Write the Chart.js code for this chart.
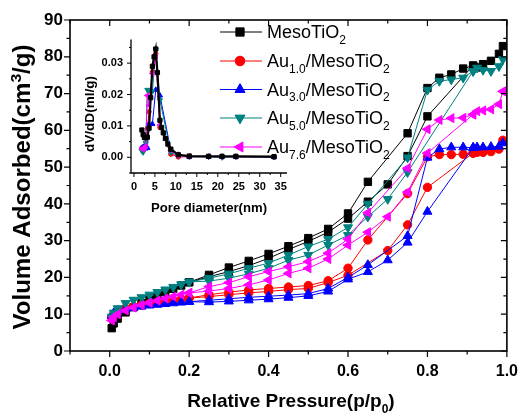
<!DOCTYPE html>
<html>
<head>
<meta charset="utf-8">
<script src="https://cdn.jsdelivr.net/npm/chart.js@4.4.0/dist/chart.umd.min.js"></script>
<style>
  html, body { margin: 0; padding: 0; background: #fff; }
  #wrap { position: relative; width: 529px; height: 413px; }
  #main { position: absolute; left: 0; top: 0; }
  #inset { position: absolute; left: 80px; top: 25px; }
</style>
</head>
<body>
<div id="wrap">
  <canvas id="main" width="529" height="413"></canvas>
  <canvas id="inset" width="215" height="195"></canvas>
</div>
<script>
// relative pressure grids (p/p0)
const pLow = [0.005, 0.01, 0.02, 0.04, 0.06, 0.08, 0.10, 0.12, 0.14, 0.16, 0.18, 0.20];
const pUp = [0.25, 0.30, 0.35, 0.40, 0.45, 0.50, 0.55, 0.60, 0.65, 0.70, 0.75, 0.80, 0.83, 0.86, 0.89, 0.915, 0.925, 0.94, 0.96, 0.98, 0.99];
const pDown = [0.20, 0.25, 0.30, 0.35, 0.40, 0.45, 0.50, 0.55, 0.60, 0.65, 0.70, 0.75, 0.80, 0.915];

// volume adsorbed (cm3/g)
const mesoLow = [6.2, 7.5, 8.8, 10.5, 11.9, 13.0, 14.0, 15.0, 16.0, 16.9, 17.8, 18.7];
const mesoUp = [20.7, 22.7, 24.5, 26.4, 28.5, 30.7, 33.2, 37.4, 46.0, null, 59.2, 71.5, 74.3, 75.2, 76.8, 77.6, 77.1, 78.0, 78.9, 80.8, 82.9];
const mesoDown = [18.7, 20.2, 21.6, 23.2, 25.2, 27.6, 29.8, 32.3, 36.0, 40.6, 45.3, 53.0, 63.8, 77.6];

const au10Low = [9.2, 10.0, 10.8, 11.6, 12.1, 12.5, 12.9, 13.2, 13.5, 13.8, 14.1, 14.4];
const au10Up = [15.3, 16.0, 16.6, 17.0, 17.4, 17.8, 19.1, 22.5, 30.2, null, 42.8, 52.8, 53.4, 53.4, 53.5, 53.8, 54.0, 54.0, 54.2, 54.9, 57.3];
const au10Down = [14.4, 14.8, 15.3, 15.8, 16.2, 16.7, 17.0, 18.6, 20.6, null, 27.3, 34.3, 44.5, 53.8];

const au30Low = [9.6, 10.3, 10.9, 11.4, 11.8, 12.1, 12.4, 12.6, 12.8, 13.0, 13.2, 13.4];
const au30Up = [13.8, 14.2, 14.6, 14.9, 15.2, 15.6, 17.0, 20.0, 23.4, null, 31.3, 52.6, 54.9, 55.4, 55.4, 55.3, 55.4, 55.4, 55.5, 55.6, 56.5];
const au30Down = [13.4, 13.3, 13.5, 13.8, 14.1, 14.5, 15.0, 16.2, 19.5, 21.5, 24.7, 29.5, 37.9, 55.3];

const au50Low = [9.3, 10.4, 11.6, 13.0, 13.9, 14.6, 15.3, 16.0, 16.7, 17.4, 18.1, 18.8];
const au50Up = [19.8, 21.0, 22.5, 23.9, 26.1, 28.4, 30.4, 33.6, 40.0, null, 52.6, 71.0, 73.4, 73.8, 74.3, 76.1, 77.0, 76.4, 76.1, 77.4, 79.3];
const au50Down = [18.8, 19.0, 19.8, 21.0, 22.5, 24.7, 26.1, 28.8, 31.5, 36.5, 41.3, 48.6, null, 76.1];

const au76Low = [8.3, 9.2, 10.0, 11.0, 11.8, 12.5, 13.1, 13.7, 14.3, 14.8, 15.3, 15.8];
const au76Up = [17.5, 18.6, 20.2, 21.6, 22.9, 24.3, 26.6, 30.4, 37.6, null, 49.7, 60.3, 62.8, 63.3, 63.4, 64.3, 65.2, 65.4, 65.7, 67.1, 70.6];
const au76Down = [15.8, 16.3, 17.0, 18.0, 19.3, 21.1, 22.5, 25.0, 28.8, 32.3, 36.5, 43.2, 53.8, 64.3];

// inset: pore size distribution
const poreD = [1.9, 2.2, 2.5, 2.8, 3.2, 3.6, 4.0, 4.4, 4.8, 5.2, 5.6, 6.2, 6.6, 7.0, 7.5, 8.1, 8.8, 10.6, 13.2, 17.8, 21.0, 24.3, 33.4];
const mesoPsd = [0.0087, 0.0072, 0.0063, 0.0062, 0.0064, 0.0093, 0.0190, 0.0290, 0.0320, 0.0345, 0.0270, 0.0118, 0.0095, 0.0078, 0.0060, 0.0042, 0.0026, 0.0008, 0.0004, 0.0003, 0.0003, 0.0003, 0.0002];
const au10Psd = [0.0030, 0.0028, 0.0035, null, 0.0092, 0.0145, null, 0.0272, null, 0.0330, null, 0.0095, null, null, null, null, 0.0010, 0.0001, 0.0002, 0.0002, 0.0002, 0.0002, 0.0001];
const au30Psd = [0.0030, 0.0032, 0.0030, 0.0028, 0.0030, 0.0106, null, 0.0106, null, 0.0215, null, 0.0197, null, null, null, null, 0.0022, 0.0008, 0.0002, 0.0002, 0.0002, 0.0002, 0.0001];
const au50Psd = [0.0020, 0.0016, 0.0025, 0.0045, 0.0215, 0.0212, null, 0.0210, null, 0.0343, null, 0.0182, null, null, null, null, 0.0015, 0.0005, 0.0002, 0.0002, 0.0000, 0.0002, 0.0001];
const au76Psd = [0.0028, 0.0025, 0.0030, 0.0035, 0.0197, 0.0165, null, 0.0267, null, 0.0323, null, 0.0103, null, null, null, null, 0.0023, 0.0005, 0.0003, 0.0003, 0.0002, 0.0002, 0.0002];

// tick labels
const xTicks = [0.0, 0.2, 0.4, 0.6, 0.8, 1.0];
const yTicks = [0, 10, 20, 30, 40, 50, 60, 70, 80, 90];
const insetXTicks = [0, 5, 10, 15, 20, 25, 30, 35];
const insetYTicks = [0.00, 0.01, 0.02, 0.03];

// legend text, [text, 'n' | 'sub' | 'sup']
const legendLabels = [
  [['MesoTiO', 'n'], ['2', 'sub']],
  [['Au', 'n'], ['1.0', 'sub'], ['/MesoTiO', 'n'], ['2', 'sub']],
  [['Au', 'n'], ['3.0', 'sub'], ['/MesoTiO', 'n'], ['2', 'sub']],
  [['Au', 'n'], ['5.0', 'sub'], ['/MesoTiO', 'n'], ['2', 'sub']],
  [['Au', 'n'], ['7.6', 'sub'], ['/MesoTiO', 'n'], ['2', 'sub']]
];

const FONT = '"Liberation Sans", Arial, Helvetica, sans-serif';

const series = [
  {color: '#000000', style: 'rect', rot: 0, r: 5.2, low: mesoLow, up: mesoUp, down: mesoDown, psd: mesoPsd},
  {color: '#ff0000', style: 'circle', rot: 0, r: 4.2, low: au10Low, up: au10Up, down: au10Down, psd: au10Psd},
  {color: '#0000ff', style: 'triangle', rot: 0, r: 5.2, low: au30Low, up: au30Up, down: au30Down, psd: au30Psd},
  {color: '#008080', style: 'triangle', rot: 180, r: 5.2, low: au50Low, up: au50Up, down: au50Down, psd: au50Psd},
  {color: '#ff00ff', style: 'triangle', rot: 270, r: 5.2, low: au76Low, up: au76Up, down: au76Down, psd: au76Psd}
];

function pts(xs, ys) {
  return xs.map((x, i) => ({x: x, y: ys[i]})).filter(p => p.y !== null);
}

function richWidth(ctx, parts, size, weight) {
  let w = 0;
  for (const [t, k] of parts) {
    ctx.font = weight + ' ' + (k === 'n' ? size : Math.round(size * 0.65)) + 'px ' + FONT;
    w += ctx.measureText(t).width;
  }
  return w;
}

// draws text with sub/superscripts, vertically centred on y
function drawRich(ctx, parts, x, y, size, weight, opts) {
  opts = opts || {};
  const natural = richWidth(ctx, parts, size, weight);
  const sx = opts.length ? opts.length / natural : 1;
  ctx.save();
  ctx.translate(x, y);
  if (opts.rotate) ctx.rotate(opts.rotate);
  ctx.scale(sx, 1);
  let cx = opts.align === 'center' ? -natural / 2 : 0;
  ctx.textBaseline = 'alphabetic';
  ctx.textAlign = 'left';
  ctx.fillStyle = '#000';
  const base = size * 0.36;
  for (const [t, k] of parts) {
    const s = k === 'n' ? size : Math.round(size * 0.65);
    ctx.font = weight + ' ' + s + 'px ' + FONT;
    let dy = base;
    if (k === 'sub') dy += size * 0.3;
    if (k === 'sup') dy -= size * 0.42;
    ctx.fillText(t, cx, dy);
    cx += ctx.measureText(t).width;
  }
  ctx.restore();
}

const mainDecor = {
  id: 'mainDecor',
  afterDraw(chart) {
    const {ctx, chartArea: a, scales: {x, y}} = chart;
    ctx.save();
    ctx.strokeStyle = '#000';
    ctx.lineWidth = 1.6;
    ctx.strokeRect(a.left, a.top, a.right - a.left, a.bottom - a.top);
    ctx.lineWidth = 1.2;
    ctx.beginPath();
    for (let k = -1; k <= 10; k++) {
      const px = x.getPixelForValue(k / 10);
      const len = k % 2 === 0 ? 6 : 3.5;
      ctx.moveTo(px, a.bottom); ctx.lineTo(px, a.bottom + len);
      ctx.moveTo(px, a.top); ctx.lineTo(px, a.top + len);
    }
    for (let v = 0; v <= 90; v += 5) {
      const py = y.getPixelForValue(v);
      const len = v % 10 === 0 ? 6 : 3.5;
      ctx.moveTo(a.left, py); ctx.lineTo(a.left - len, py);
      ctx.moveTo(a.right, py); ctx.lineTo(a.right - len, py);
    }
    ctx.stroke();

    // legend
    const rows = [32, 61, 89.5, 118, 147];
    series.forEach((s, i) => {
      const ly = rows[i];
      ctx.strokeStyle = s.color;
      ctx.lineWidth = 1;
      ctx.beginPath();
      ctx.moveTo(220, ly); ctx.lineTo(262, ly);
      ctx.stroke();
      ctx.fillStyle = s.color;
      Chart.helpers.drawPoint(ctx, {pointStyle: s.style, rotation: s.rot, radius: s.r + 0.6, borderWidth: 1}, 240, ly);
      ctx.fill();
      drawRich(ctx, legendLabels[i], 267, ly, 18, 'normal');
    });

    // axis titles
    drawRich(ctx, [['Relative Pressure(p/p', 'n'], ['0', 'sub'], [')', 'n']], 291, 400, 19, 'bold', {align: 'center'});
    drawRich(ctx, [['Volume Adsorbed(cm', 'n'], ['3', 'sup'], ['/g)', 'n']], 22, 187, 23, 'bold', {align: 'center', rotate: -Math.PI / 2, length: 285});
    ctx.restore();
  }
};

const insetDecor = {
  id: 'insetDecor',
  afterDraw(chart) {
    const {ctx, chartArea: a, scales: {x, y}} = chart;
    ctx.save();
    ctx.strokeStyle = '#000';
    ctx.lineWidth = 1.3;
    ctx.beginPath();
    ctx.moveTo(a.left, a.top); ctx.lineTo(a.left, a.bottom); ctx.lineTo(a.right, a.bottom);
    ctx.stroke();
    ctx.lineWidth = 1;
    ctx.beginPath();
    for (let v = 0; v <= 35; v += 2.5) {
      const px = x.getPixelForValue(v);
      const len = v % 5 === 0 ? 4 : 2;
      ctx.moveTo(px, a.bottom); ctx.lineTo(px, a.bottom + len);
    }
    for (let k = -1; k <= 7; k++) {
      const py = y.getPixelForValue(k * 0.005);
      const len = k % 2 === 0 ? 4 : 2;
      ctx.moveTo(a.left, py); ctx.lineTo(a.left - len, py);
    }
    ctx.stroke();
    drawRich(ctx, [['Pore diameter(nm)', 'n']], 129, 182, 12.5, 'bold', {align: 'center', length: 116});
    drawRich(ctx, [['dV/dD(ml/g)', 'n']], 10, 89, 12, 'bold', {align: 'center', rotate: -Math.PI / 2, length: 76});
    ctx.restore();
  }
};

const mainDatasets = [];
series.forEach((s, i) => {
  const common = {
    borderColor: s.color, backgroundColor: s.color,
    pointStyle: s.style, rotation: s.rot, pointRadius: s.r,
    pointBorderWidth: 1, borderWidth: 1, showLine: true,
    order: series.length - i
  };
  mainDatasets.push(Object.assign({data: pts(pLow.concat(pUp), s.low.concat(s.up))}, common));
  mainDatasets.push(Object.assign({data: pts(pDown, s.down)}, common));
});

const tickFont = (size) => ({family: FONT, size: size, weight: 'bold'});

new Chart(document.getElementById('main'), {
  type: 'scatter',
  data: {datasets: mainDatasets},
  options: {
    responsive: false,
    animation: false,
    layout: {padding: {left: 0, right: 17, top: 20, bottom: 0}},
    plugins: {legend: {display: false}, tooltip: {enabled: false}},
    scales: {
      x: {
        type: 'linear', min: -0.1, max: 1.0,
        afterBuildTicks: s => { s.ticks = xTicks.map(v => ({value: v})); },
        afterFit: s => { s.height = 62; },
        grid: {display: false, drawTicks: false},
        border: {display: false},
        ticks: {font: tickFont(16), color: '#000', padding: 11, maxRotation: 0, autoSkip: false,
                callback: v => v.toFixed(1)}
      },
      y: {
        type: 'linear', min: 0, max: 90,
        afterBuildTicks: s => { s.ticks = yTicks.map(v => ({value: v})); },
        afterFit: s => { s.width = 70; },
        grid: {display: false, drawTicks: false},
        border: {display: false},
        ticks: {font: tickFont(17), color: '#000', padding: 7, autoSkip: false,
                callback: v => String(v)}
      }
    }
  },
  plugins: [mainDecor]
});

const insetDatasets = series.map((s, i) => ({
  data: pts(poreD, s.psd),
  borderColor: s.color, backgroundColor: s.color,
  pointStyle: s.style, rotation: s.rot,
  pointRadius: s.style === 'circle' ? 2.2 : 3,
  pointBorderWidth: 1,
  borderWidth: i === 0 ? 2.2 : 1,
  showLine: true,
  order: i === 0 ? 0 : series.length - i
}));

new Chart(document.getElementById('inset'), {
  type: 'scatter',
  data: {datasets: insetDatasets},
  options: {
    responsive: false,
    animation: false,
    layout: {padding: {left: 0, right: 8, top: 10, bottom: 0}},
    plugins: {legend: {display: false}, tooltip: {enabled: false}},
    scales: {
      x: {
        type: 'linear', min: -0.7, max: 36.5,
        afterBuildTicks: s => { s.ticks = insetXTicks.map(v => ({value: v})); },
        afterFit: s => { s.height = 47; },
        grid: {display: false, drawTicks: false},
        border: {display: false},
        ticks: {font: tickFont(11), color: '#000', padding: 7, maxRotation: 0, autoSkip: false,
                callback: v => String(v)}
      },
      y: {
        type: 'linear', min: -0.005, max: 0.0375,
        afterBuildTicks: s => { s.ticks = insetYTicks.map(v => ({value: v})); },
        afterFit: s => { s.width = 51; },
        grid: {display: false, drawTicks: false},
        border: {display: false},
        ticks: {font: tickFont(11), color: '#000', padding: 8, autoSkip: false,
                callback: v => v.toFixed(2)}
      }
    }
  },
  plugins: [insetDecor]
});
</script>
</body>
</html>
